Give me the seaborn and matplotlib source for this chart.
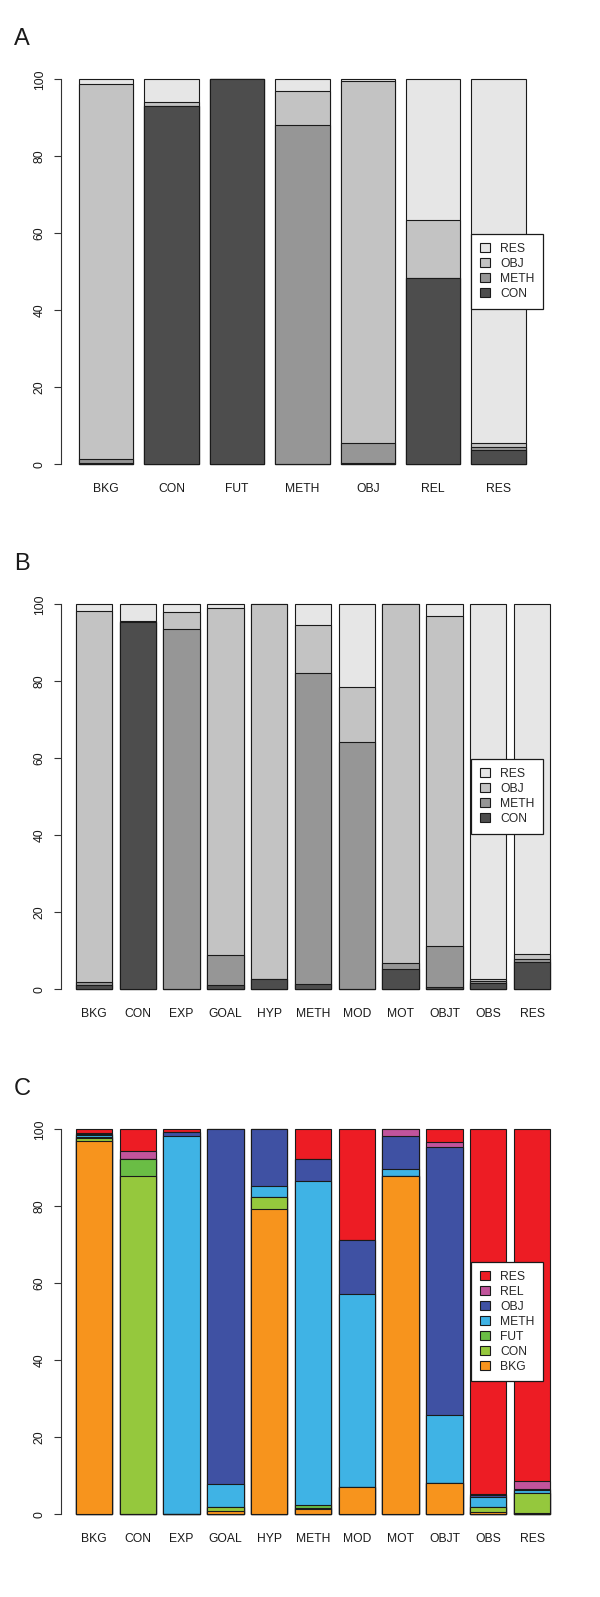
import numpy as np
import pandas as pd
import seaborn as sns
import matplotlib.pyplot as plt
from matplotlib.patches import Patch

sns.set_theme(style='white')
plt.rcParams['font.family'] = ['Liberation Sans', 'DejaVu Sans']

# ---- data (percent of each section label, stacked bottom -> top) ----
a_groups = ['BKG', 'CON', 'FUT', 'METH', 'OBJ', 'REL', 'RES']
a_series = ['CON', 'METH', 'OBJ', 'RES']
a_con  = [0.4, 93.0, 100.0, 0.0, 0.3, 48.4, 3.6]
a_meth = [1.1, 0.0, 0.0, 88.0, 5.3, 0.0, 1.0]
a_obj  = [97.3, 1.2, 0.0, 8.9, 94.0, 15.1, 0.9]
a_res  = [1.2, 5.8, 0.0, 3.1, 0.4, 36.5, 94.5]

b_groups = ['BKG', 'CON', 'EXP', 'GOAL', 'HYP', 'METH', 'MOD', 'MOT', 'OBJT', 'OBS', 'RES']
b_series = ['CON', 'METH', 'OBJ', 'RES']
b_con  = [1.0, 95.4, 0.0, 1.0, 2.8, 1.4, 0.0, 5.2, 0.5, 1.7, 7.2]
b_meth = [0.8, 0.0, 93.5, 7.9, 0.0, 80.8, 64.2, 1.6, 10.7, 0.5, 0.8]
b_obj  = [96.4, 0.3, 4.5, 90.1, 97.2, 12.5, 14.4, 93.2, 85.8, 0.6, 1.2]
b_res  = [1.8, 4.3, 2.0, 1.0, 0.0, 5.3, 21.4, 0.0, 3.0, 97.2, 90.8]

c_groups = b_groups
c_series = ['BKG', 'CON', 'FUT', 'METH', 'OBJ', 'REL', 'RES']
c_bkg  = [97.0, 0.0, 0.0, 0.9, 79.4, 1.4, 7.1, 88.0, 8.1, 0.5, 0.4]
c_con  = [0.8, 88.0, 0.0, 1.0, 2.9, 0.3, 0.0, 0.0, 0.0, 1.4, 5.1]
c_fut  = [0.2, 4.2, 0.0, 0.1, 0.0, 0.8, 0.0, 0.0, 0.0, 0.0, 0.0]
c_meth = [0.4, 0.0, 98.2, 6.0, 3.0, 84.1, 50.0, 1.6, 17.6, 2.7, 0.8]
c_obj  = [0.3, 0.0, 1.1, 92.0, 14.7, 5.7, 14.2, 8.7, 69.8, 0.4, 0.2]
c_rel  = [0.3, 2.2, 0.0, 0.0, 0.0, 0.0, 0.0, 1.7, 1.2, 0.2, 2.1]
c_res  = [1.0, 5.6, 0.7, 0.0, 0.0, 7.7, 28.7, 0.0, 3.3, 94.8, 91.4]

grays = ['#4D4D4D', '#969696', '#C3C3C3', '#E6E6E6']
c_colors = ['#F7941D', '#95C83D', '#6ABD45', '#3FB3E5', '#3F51A3', '#C1549C', '#ED1C24']

W, H = 600, 1597
fig = plt.figure(figsize=(W / 100, H / 100), dpi=100)


def px_axes(left, right, top, bottom):
    return fig.add_axes([left / W, 1 - bottom / H, (right - left) / W, (bottom - top) / H])


def stacked(ax, groups, series, values, colors, xlim, leg_top, label, label_y):
    df = pd.DataFrame(dict(zip(series, values)), index=groups)
    cum = df.cumsum(axis=1)
    # draw tallest cumulative layer first, lower layers on top
    for s, col in reversed(list(zip(series, colors))):
        sns.barplot(x=groups, y=cum[s].values, order=groups, color=col, saturation=1,
                    edgecolor='#1a1a1a', linewidth=0.8, width=1 / 1.2,
                    errorbar=None, ax=ax)
    ax.set_xlim(*xlim)
    ax.set_ylim(-4, 104)
    ax.set_xlabel('')
    ax.set_ylabel('')
    ax.set_yticks([0, 20, 40, 60, 80, 100])
    ax.set_yticklabels(['0', '20', '40', '60', '80', '100'], rotation=90, va='center')
    for sp in ['top', 'right', 'bottom']:
        ax.spines[sp].set_visible(False)
    ax.spines['left'].set_bounds(0, 100)
    ax.spines['left'].set_color('#333333')
    ax.spines['left'].set_linewidth(0.8)
    ax.tick_params(axis='y', left=True, length=5, width=0.8, color='#333333',
                   pad=6, labelsize=8.7, labelcolor='#1a1a1a')
    ax.tick_params(axis='x', bottom=False, length=0, pad=2.5, labelsize=8.7,
                   labelcolor='#1a1a1a')
    ax.set_facecolor('white')

    handles = [Patch(facecolor=c, edgecolor='#1a1a1a', linewidth=0.8, label=s)
               for s, c in reversed(list(zip(series, colors)))]
    leg = ax.legend(handles=handles, loc='upper left',
                    bbox_to_anchor=(471.3 / W, 1 - leg_top / H),
                    bbox_transform=fig.transFigure, borderaxespad=0,
                    fontsize=8.7, frameon=True, fancybox=False, shadow=False,
                    handlelength=0.8, handleheight=0.8, handletextpad=0.85,
                    labelspacing=0.25, borderpad=0.72)
    leg.get_frame().set_edgecolor('#1a1a1a')
    leg.get_frame().set_linewidth(0.9)
    leg.get_frame().set_alpha(1)
    fig.text(14 / W, 1 - label_y / H, label, fontsize=17, va='baseline', ha='left',
             color='#1a1a1a')


ax_a = px_axes(61, 543.3, 63.9, 479.7)
stacked(ax_a, a_groups, a_series, [a_con, a_meth, a_obj, a_res], grays,
        (-0.691, 6.683), 234.3, 'A', 45)

ax_b = px_axes(61, 571, 588.9, 1004.7)
stacked(ax_b, b_groups, b_series, [b_con, b_meth, b_obj, b_res], grays,
        (-0.753, 10.89), 759.3, 'B', 570)

ax_c = px_axes(61, 571, 1113.9, 1529.7)
stacked(ax_c, c_groups, c_series,
        [c_bkg, c_con, c_fut, c_meth, c_obj, c_rel, c_res], c_colors,
        (-0.753, 10.89), 1261.8, 'C', 1095)

plt.savefig('out.png', dpi=100)
plt.close('all')
